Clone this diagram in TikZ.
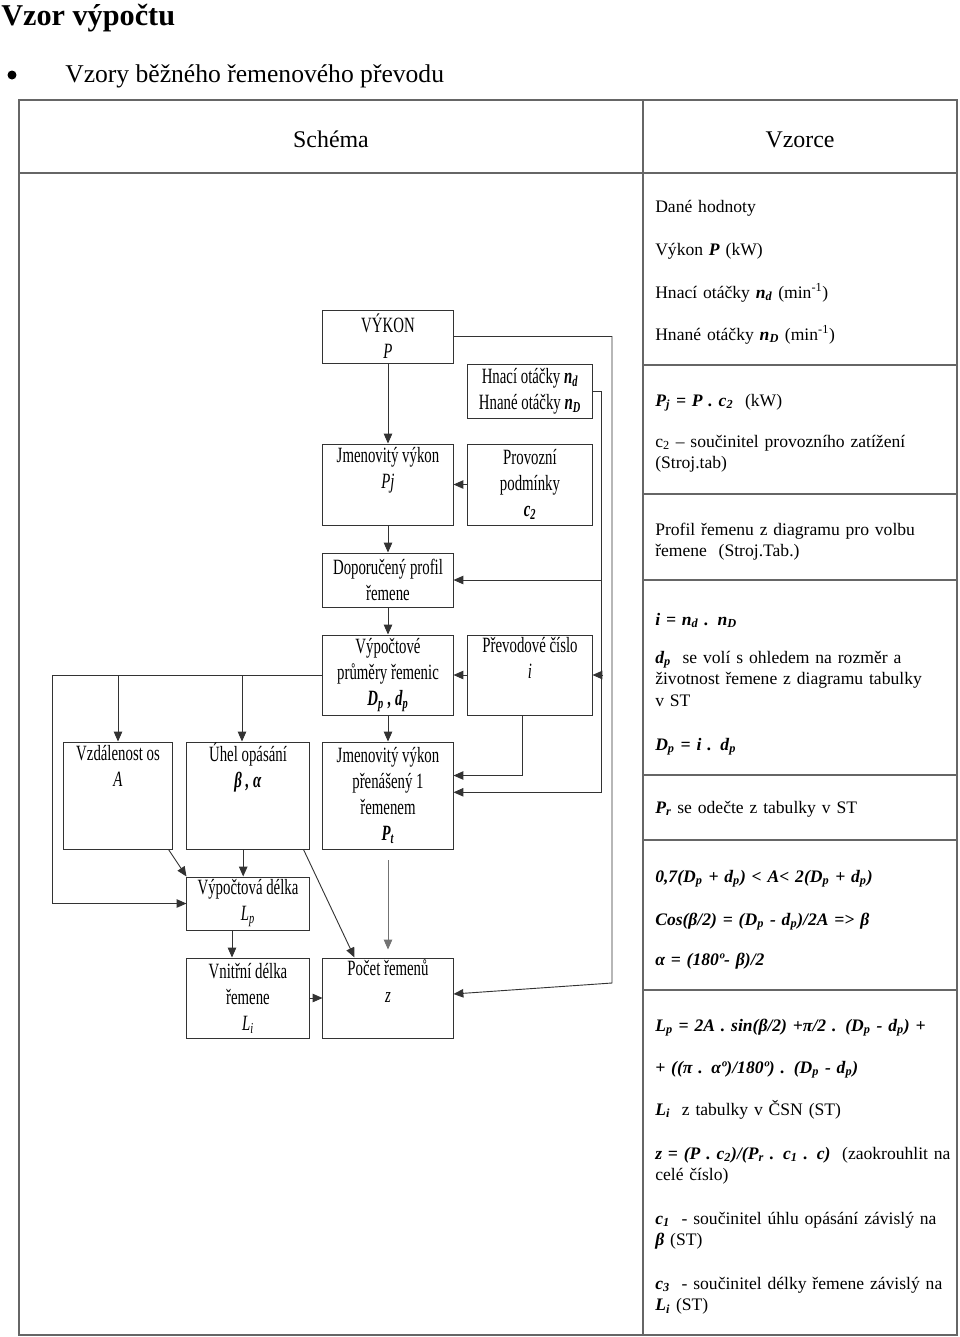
\documentclass[tikz,border=0pt]{standalone}
\usepackage{fontspec}
\setmainfont{Liberation Serif}
\newfontfamily\uzky[FakeStretch=0.68]{Liberation Serif}
\usetikzlibrary{arrows.meta}
\newcommand{\bi}[1]{\textbf{\textit{#1}}}
\newcommand{\spod}[1]{\textsubscript{#1}}

\begin{document}
\begin{tikzpicture}[x=0.025cm, y=-0.025cm,
    krabice/.style={draw=black!80, line width=0.7pt, align=center, inner sep=0pt,
      font=\uzky\fontsize{15.5}{18.5}\selectfont},
    spoj/.style={draw=black!80, line width=0.65pt, -{Triangle[length=7pt, width=6pt]}},
    radek/.style={anchor=base west, text width=7.6cm, align=left, inner sep=0pt,
      font=\fontsize{12.5}{15.3}\selectfont},
    mrizka/.style={draw=black!60, line width=0.8pt}]
  \useasboundingbox (0,0) rectangle (960,1337);

  \node[anchor=base west, inner sep=0pt, font=\bfseries\fontsize{21.5}{25}\selectfont] (nadpis) at (1,25) {Vzor výpočtu};
  \fill (12,75) circle (3.2pt);
  \node[anchor=base west, inner sep=0pt, font=\fontsize{18.2}{22}\selectfont] (podnadpis) at (65,82) {Vzory běžného řemenového převodu};

  \draw[mrizka, line width=1.3pt] (19,100) rectangle (957,1335);
  \draw[mrizka] (643,100) -- (643,1335);
  \draw[mrizka] (19,173) -- (957,173);
  \foreach \y in {365,494,580,775,840,990}
    \draw[mrizka] (643,\y) -- (957,\y);

  \node[anchor=base, inner sep=0pt, font=\fontsize{17}{20}\selectfont] (schema) at (331,147) {Schéma};
  \node[anchor=base, inner sep=0pt, font=\fontsize{17}{20}\selectfont] (vzorce) at (800,147) {Vzorce};

  \node[radek] (r1) at (655,212) {Dané hodnoty};
  \node[radek] (r2) at (655,255) {Výkon \bi{P} (kW)};
  \node[radek] (r3) at (655,298) {Hnací otáčky \bi{n\spod{d}} (min\textsuperscript{-1})};
  \node[radek] (r4) at (655,340) {Hnané otáčky \bi{n\spod{D}} (min\textsuperscript{-1})};
  \node[radek] (r5) at (655,406) {\bi{P\spod{j} = P . c\spod{2}}\ \ (kW)};
  \node[radek] (r6) at (655,447) {c\spod{2} – součinitel provozního zatížení\\ (Stroj.tab)};
  \node[radek] (r7) at (655,535) {Profil řemenu z diagramu pro volbu\\ řemene\ \ (Stroj.Tab.)};
  \node[radek] (r8) at (655,625) {\bi{i = n\spod{d} . n\spod{D}}};
  \node[radek] (r9) at (655,663) {\bi{d\spod{p}}\ \ se volí s ohledem na rozměr a\\ životnost řemene z diagramu tabulky\\ v ST};
  \node[radek] (r10) at (655,750) {\bi{D\spod{p} = i . d\spod{p}}};
  \node[radek] (r11) at (655,813) {\bi{P\spod{r}} se odečte z tabulky v ST};
  \node[radek] (r12) at (655,882) {\bi{0,7(D\spod{p} + d\spod{p}) < A< 2(D\spod{p} + d\spod{p})}};
  \node[radek] (r13) at (655,925) {\bi{Cos(β/2) = (D\spod{p} - d\spod{p})/2A => β}};
  \node[radek] (r14) at (655,965) {\bi{α = (180º- β)/2}};
  \node[radek] (r15) at (655,1031) {\bi{L\spod{p} = 2A . sin(β/2) +π/2 . (D\spod{p} - d\spod{p}) +}};
  \node[radek] (r16) at (655,1073) {\bi{+ ((π . αº)/180º) . (D\spod{p} - d\spod{p})}};
  \node[radek] (r17) at (655,1115) {\bi{L\spod{i}}\ \ z tabulky v ČSN (ST)};
  \node[radek] (r18) at (655,1159) {\bi{z = (P . c\spod{2})/(P\spod{r} . c\spod{1} . c)}\ \ (zaokrouhlit na\\ celé číslo)};
  \node[radek] (r19) at (655,1224) {\bi{c\spod{1}}\ \ - součinitel úhlu opásání závislý na\\ \bi{β} (ST)};
  \node[radek] (r20) at (655,1289) {\bi{c\spod{3}}\ \ - součinitel délky řemene závislý na\\ \bi{L\spod{i}} (ST)};

  \node[krabice, minimum width=3.25cm, minimum height=1.325cm] (vykon) at (388,336.5) {VÝKON\\ \textit{P}};
  \node[krabice, minimum width=3.1cm, minimum height=1.35cm] (otacky) at (530,391) {Hnací otáčky \bi{n\spod{d}}\\ Hnané otáčky \bi{n\spod{D}}};
  \node[krabice, minimum width=3.25cm, minimum height=2.025cm] (pj) at (388,484.5) {Jmenovitý výkon\\ \textit{Pj}\\ \strut};
  \node[krabice, minimum width=3.1cm, minimum height=2.025cm] (provoz) at (530,484.5) {Provozní\\ podmínky\\ \bi{c\spod{2}}};
  \node[krabice, minimum width=3.25cm, minimum height=1.35cm] (profil) at (388,580) {Doporučený profil\\ řemene};
  \node[krabice, minimum width=3.25cm, minimum height=2cm] (prumery) at (388,675) {Výpočtové\\ průměry řemenic\\ \bi{D\spod{p} , d\spod{p}}};
  \node[krabice, minimum width=3.1cm, minimum height=2cm] (prevod) at (530,675) {Převodové číslo\\ \textit{i}\\ \strut};
  \node[krabice, minimum width=2.7cm, minimum height=2.675cm] (osy) at (118,795.5) {Vzdálenost os\\ \textit{A}\\ \strut\\ \strut};
  \node[krabice, minimum width=3.05cm, minimum height=2.675cm] (uhel) at (248,795.5) {Úhel opásání\\ \bi{β , α}\\ \strut\\ \strut};
  \node[krabice, minimum width=3.25cm, minimum height=2.675cm] (pt) at (388,795.5) {Jmenovitý výkon\\ přenášený 1\\ řemenem\\ \bi{P\spod{t}}};
  \node[krabice, minimum width=3.05cm, minimum height=1.325cm] (delka) at (248,903.5) {Výpočtová délka\\ \textit{L\spod{p}}};
  \node[krabice, minimum width=3.05cm, minimum height=2cm] (vnitrni) at (248,998) {Vnitřní délka\\ řemene\\ \textit{L\spod{i}}};
  \node[krabice, minimum width=3.25cm, minimum height=2cm] (pocet) at (388,998) {Počet řemenů\\ \textit{z}\\ \strut};

  \draw[spoj] (vykon) -- (pj);
  \draw[spoj] (pj) -- (profil);
  \draw[spoj] (profil) -- (prumery);
  \draw[spoj] (prumery) -- (pt);
  \draw[spoj] (provoz) -- (pj);
  \draw[spoj] (prevod) -- (prumery);

  \coordinate (zlom) at (612,983);
  \draw[spoj] (vykon.east) -| (zlom) -- ([yshift=0.1cm]pocet.east);

  \draw[spoj] (otacky.east) -- ++(9,0) coordinate (rozvod) |- ([yshift=0.08cm]pt.east);
  \draw[spoj] (rozvod |- profil.east) -- (profil.east);
  \draw[spoj] (rozvod |- prevod.east) -- (prevod.east);
  \draw[spoj] ([xshift=-0.2cm]prevod.south) |- ([yshift=0.5cm]pt.east);

  \draw[spoj] (prumery.west) -- ++(-270,0) coordinate (vlevo) |- (delka.west);
  \draw[spoj] (osy.north |- vlevo) -- (osy.north);
  \coordinate (u1) at ([xshift=-0.15cm]uhel.north);
  \draw[spoj] (u1 |- vlevo) -- (u1);

  \draw[spoj] ([xshift=-0.1cm]osy.south east) -- (delka.north west);
  \draw[spoj] ([xshift=-0.12cm]uhel.south) -- ([xshift=-0.12cm]delka.north);
  \draw[spoj] ([xshift=-0.15cm]uhel.south east) -- ([xshift=0.8cm]pocet.north west);
  \draw[spoj, draw=black!55, shorten <=0.27cm, shorten >=0.2cm] (pt) -- (pocet);
  \draw[spoj] ([xshift=-0.4cm]delka.south) -- ([xshift=-0.4cm]vnitrni.north);
  \draw[spoj] (vnitrni) -- (pocet);
\end{tikzpicture}
\end{document}
